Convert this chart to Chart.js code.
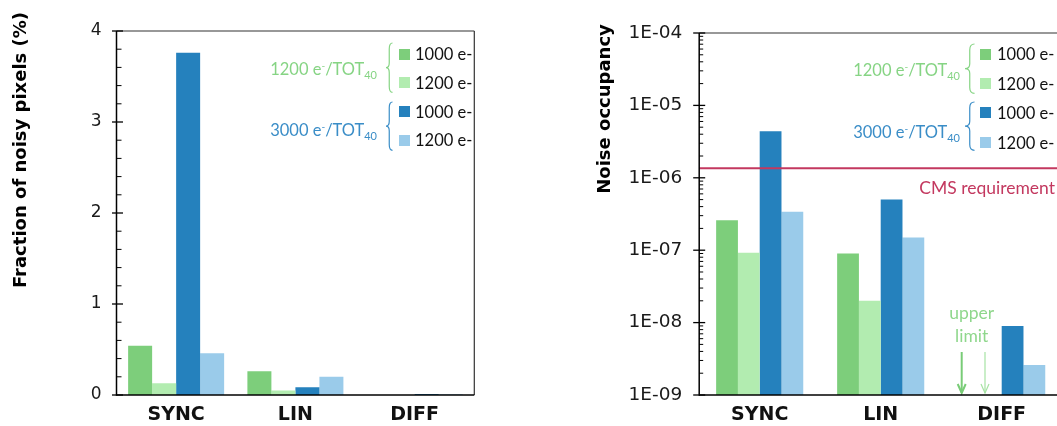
<!DOCTYPE html>
<html><head><meta charset="utf-8">
<script src="https://cdn.jsdelivr.net/npm/chart.js@4/dist/chart.umd.min.js"></script>
<style>
html,body{margin:0;padding:0;background:#fff;width:1057px;height:426px;overflow:hidden;position:relative}
canvas{position:absolute;top:0}
#c1{left:0}
#c2{left:580px}
.sq{position:absolute;width:11px;height:11px}
.it{position:absolute;font-family:Lato,sans-serif;font-size:16.5px;color:#111;line-height:20px;height:20px;white-space:nowrap}
.gl{position:absolute;font-family:Lato,sans-serif;font-size:16.5px;white-space:nowrap;line-height:20px;height:20px;text-align:right}
.gl .sp{position:relative;top:-6px;font-size:10px}
.gl .sb{position:relative;top:4px;font-size:11px}
svg.br{position:absolute;overflow:visible}
</style></head>
<body>
<canvas id="c1" width="530" height="426"></canvas>
<canvas id="c2" width="500" height="426"></canvas>
<div id="legends"></div>
<script>
// ---------- data ----------
const categories = ['SYNC', 'LIN', 'DIFF'];
const seriesNames = ['1000 e-', '1200 e-', '1000 e-', '1200 e-'];
const groupThresholds = ['1200', '3000'];
const seriesColors = ['#7dce7b', '#b2ecb0', '#2581bd', '#9acbea'];
const groupColors = ['#86d484', '#3a8dc7'];

// Fraction of noisy pixels (%)
const fracTot1200_th1000 = [0.54, 0.26, 0];
const fracTot1200_th1200 = [0.13, 0.05, 0];
const fracTot3000_th1000 = [3.76, 0.085, 0.012];
const fracTot3000_th1200 = [0.46, 0.20, 0.007];
const fracTicks = [0, 1, 2, 3, 4];

// Noise occupancy
const occTot1200_th1000 = [2.6e-7, 9.0e-8, null];
const occTot1200_th1200 = [9.2e-8, 2.0e-8, null];
const occTot3000_th1000 = [4.4e-6, 5.0e-7, 9.0e-9];
const occTot3000_th1200 = [3.4e-7, 1.5e-7, 2.6e-9];
const occTickValues = [1e-9, 1e-8, 1e-7, 1e-6, 1e-5, 1e-4];
const occTickLabels = ['1E-09', '1E-08', '1E-07', '1E-06', '1E-05', '1E-04'];
const cmsRequirement = 1.35e-6;

const fracSeries = [fracTot1200_th1000, fracTot1200_th1200, fracTot3000_th1000, fracTot3000_th1200];
const occSeries = [occTot1200_th1000, occTot1200_th1200, occTot3000_th1000, occTot3000_th1200];

// ---------- helpers ----------
function line(ctx, x1, y1, x2, y2, w, c) {
  ctx.save(); ctx.beginPath(); ctx.moveTo(x1, y1); ctx.lineTo(x2, y2);
  ctx.lineWidth = w; ctx.strokeStyle = c; ctx.stroke(); ctx.restore();
}
function rotatedTitle(ctx, text, x, y) {
  ctx.save(); ctx.translate(x, y); ctx.rotate(-Math.PI / 2);
  ctx.font = 'bold 18px "DejaVu Sans"'; ctx.fillStyle = '#000';
  ctx.textAlign = 'center'; ctx.textBaseline = 'middle';
  ctx.fillText(text, 0, 0); ctx.restore();
}

const leftDecor = {
  id: 'leftDecor',
  afterDraw(chart) {
    const {ctx, chartArea: a, scales: {y}} = chart;
    rotatedTitle(ctx, 'Fraction of noisy pixels (%)', 21, 150);
    line(ctx, a.left, a.top, a.right, a.top, 1.2, '#333');
    line(ctx, a.right, a.top, a.right, a.bottom, 1.2, '#333');
    for (let i = 0; i <= 20; i++) {
      const v = i * 0.2; const py = y.getPixelForValue(v);
      if (i % 5 === 0) line(ctx, a.left - 4.5, py, a.left + 6.5, py, 1.3, '#000');
      else line(ctx, a.left, py, a.left + 5, py, 1, '#000');
    }
    line(ctx, a.left, a.top, a.left, a.bottom + 0.7, 1.5, '#000');
    line(ctx, a.left, a.bottom, a.right, a.bottom, 1.5, '#000');
  }
};

const rightDecor = {
  id: 'rightDecor',
  afterDatasetsDraw(chart) {
    const {ctx, chartArea: a, scales: {x, y}} = chart;
    const cy = y.getPixelForValue(cmsRequirement);
    line(ctx, a.left, cy, a.right, cy, 2, '#c3385f');
    ctx.save();
    ctx.font = '17.5px Lato'; ctx.fillStyle = '#c3385f';
    ctx.textAlign = 'right'; ctx.textBaseline = 'middle';
    ctx.fillText('CMS requirement', 475, cy + 20);
    // upper limit annotation for DIFF (no measured hits)
    const cx = x.getPixelForValue(2);
    ctx.font = '17.5px Lato'; ctx.fillStyle = '#8fd78c'; ctx.textAlign = 'center';
    ctx.fillText('upper', cx - 30, a.bottom - 82);
    ctx.fillText('limit', cx - 30, a.bottom - 59);
    ctx.restore();
    const arrows = [[cx - 40, 2, '#79cc77'], [cx - 16.7, 1.2, '#a6e3a3']];
    arrows.forEach(([ax, w, c]) => {
      line(ctx, ax, a.bottom - 43, ax, a.bottom - 2, w, c);
      ctx.save(); ctx.beginPath();
      ctx.moveTo(ax - 4, a.bottom - 11); ctx.lineTo(ax, a.bottom - 2); ctx.lineTo(ax + 4, a.bottom - 11);
      ctx.lineWidth = w; ctx.strokeStyle = c; ctx.stroke(); ctx.restore();
    });
  },
  afterDraw(chart) {
    const {ctx, chartArea: a, scales: {y}} = chart;
    rotatedTitle(ctx, 'Noise occupancy', 25, 109);
    line(ctx, a.left, a.top, a.right, a.top, 1.2, '#333');
    for (let e = -9; e <= -4; e++) {
      const py = y.getPixelForValue(Math.pow(10, e));
      line(ctx, a.left - 6, py, a.left + 6, py, 1.3, '#000');
      if (e < -4) for (let k = 2; k <= 9; k++) {
        const my = y.getPixelForValue(k * Math.pow(10, e));
        line(ctx, a.left, my, a.left + 4, my, 1, '#000');
      }
    }
    line(ctx, a.left, a.top, a.left, a.bottom + 0.7, 1.5, '#000');
    line(ctx, a.left, a.bottom, a.right, a.bottom, 1.5, '#000');
  }
};

function baseOptions() {
  return {
    responsive: false, animation: false, events: [],
    plugins: {legend: {display: false}, tooltip: {enabled: false}},
  };
}
const xAxis = {
  grid: {display: false, drawTicks: false}, border: {display: false},
  ticks: {font: {family: 'DejaVu Sans', size: 19, weight: 'bold'}, color: '#111', padding: 9, maxRotation: 0},
  afterFit(s) { s.height = 31; }
};

const o1 = baseOptions();
o1.layout = {padding: {top: 31, right: 55.7, bottom: 0, left: 0}};
o1.scales = {
  x: xAxis,
  y: {
    min: 0, max: 4,
    grid: {display: false, drawTicks: false}, border: {display: false},
    ticks: {font: {family: 'DejaVu Sans', size: 17}, color: '#1a1a1a', padding: 15,
      callback: (v) => String(v)},
    afterBuildTicks(s) { s.ticks = fracTicks.map(v => ({value: v})); },
    afterFit(s) { s.width = 116.5; }
  }
};
new Chart(document.getElementById('c1'), {
  type: 'bar',
  data: {labels: categories, datasets: fracSeries.map((d, i) => ({
    label: seriesNames[i], data: d, backgroundColor: seriesColors[i],
    borderWidth: 0, categoryPercentage: 0.805, barPercentage: 1}))},
  options: o1, plugins: [leftDecor]
});

const o2 = baseOptions();
o2.layout = {padding: {top: 33, right: 17.8, bottom: 0, left: 0}};
o2.scales = {
  x: xAxis,
  y: {
    type: 'logarithmic', min: 1e-9, max: 1e-4,
    grid: {display: false, drawTicks: false}, border: {display: false},
    ticks: {font: {family: 'DejaVu Sans', size: 18.5}, color: '#1a1a1a', padding: 17, autoSkip: false,
      callback: (v, i) => occTickLabels[i]},
    afterBuildTicks(s) { s.ticks = occTickValues.map(v => ({value: v})); },
    afterFit(s) { s.width = 119.2; }
  }
};
new Chart(document.getElementById('c2'), {
  type: 'bar',
  data: {labels: categories, datasets: occSeries.map((d, i) => ({
    label: seriesNames[i], data: d, backgroundColor: seriesColors[i],
    borderWidth: 0, categoryPercentage: 0.72, barPercentage: 1}))},
  options: o2, plugins: [rightDecor]
});

// ---------- custom bracketed legends ----------
const legendLayouts = [
  {sqX: 399, rows: [54.3, 82.7, 111.7, 140], textX: 415, labelRight: 377, labelY: [69, 130],
   braceX: 385.5, braceW: 6.5, braces: [[43.3, 92.7], [101.7, 150]]},
  {sqX: 980, rows: [54, 83.5, 112.5, 142.5], textX: 997, labelRight: 960, labelY: [70, 131.5],
   braceX: 965, braceW: 9.5, braces: [[44, 93.3], [101.7, 150]]}
];
const host = document.getElementById('legends');
let html = '';
legendLayouts.forEach(L => {
  seriesNames.forEach((n, i) => {
    html += `<div class="sq" style="left:${L.sqX}px;top:${L.rows[i] - 5.5}px;background:${seriesColors[i]}"></div>`;
    html += `<div class="it" style="left:${L.textX}px;top:${L.rows[i] - 10}px">${n}</div>`;
  });
  groupThresholds.forEach((t, g) => {
    html += `<div class="gl" style="right:${1057 - L.labelRight}px;top:${L.labelY[g] - 10}px;color:${groupColors[g]}">${t} e<span class="sp">-</span>/TOT<span class="sb">40</span></div>`;
    const [y0, y1] = L.braces[g]; const h = y1 - y0; const w = L.braceW;
    const d = `M${w},0 Q${w / 2},0 ${w / 2},${h * 0.12} L${w / 2},${h * 0.4} Q${w / 2},${h / 2} 0,${h / 2} Q${w / 2},${h / 2} ${w / 2},${h * 0.6} L${w / 2},${h * 0.88} Q${w / 2},${h} ${w},${h}`;
    html += `<svg class="br" style="left:${L.braceX}px;top:${y0}px" width="${w}" height="${h}"><path d="${d}" fill="none" stroke="${groupColors[g]}" stroke-width="1.2"/></svg>`;
  });
});
host.innerHTML = html;
</script>
</body></html>
